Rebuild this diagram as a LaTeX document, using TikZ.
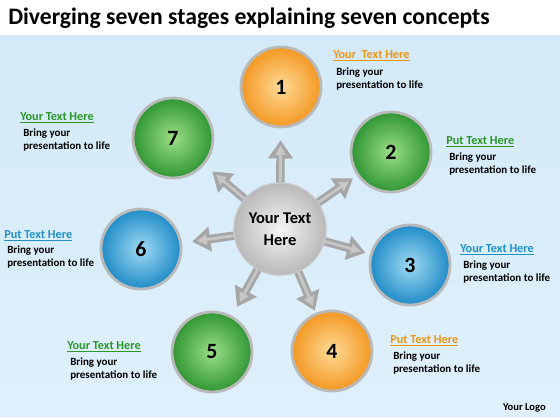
\documentclass[tikz,border=0pt]{standalone}
\usepackage{fontspec}
\setmainfont{Carlito}
\usetikzlibrary{arrows.meta,calc}

\definecolor{orangehi}{RGB}{255,218,150}
\definecolor{orangelo}{RGB}{243,152,35}
\definecolor{orangetxt}{RGB}{236,150,20}
\definecolor{greenhi}{RGB}{155,222,135}
\definecolor{greenlo}{RGB}{48,150,52}
\definecolor{greentxt}{RGB}{40,150,40}
\definecolor{bluehi}{RGB}{160,218,242}
\definecolor{bluelo}{RGB}{32,140,200}
\definecolor{bluetxt}{RGB}{30,145,200}
\definecolor{skytop}{RGB}{212,234,248}
\definecolor{skybot}{RGB}{222,240,251}

\begin{document}
\begin{tikzpicture}[x=0.025cm, y=-0.025cm,
    ball/.style={circle, minimum size=2cm, draw=gray!55, line width=2pt, font=\fontsize{15.5}{18}\bfseries},
    orangeball/.style={ball, inner color=orangehi, outer color=orangelo},
    greenball/.style={ball, inner color=greenhi, outer color=greenlo},
    blueball/.style={ball, inner color=bluehi, outer color=bluelo},
    hub/.style={circle, minimum size=2.3cm, draw=gray!45, line width=1pt, inner color=gray!8, outer color=gray!55, align=center, font=\fontsize{11.7}{15.6}\bfseries},
    spoke/.style={draw=gray!70, line width=6pt, -{Triangle[length=13pt, width=17pt]},
        postaction={draw=gray!45, line width=2pt, -{Triangle[length=7pt, width=7pt]}, shorten >=3.5pt}},
    head/.style={anchor=west, inner sep=0pt, font=\fontsize{8.7}{10}\bfseries},
    body/.style={anchor=west, inner sep=0pt, align=left, font=\fontsize{7.8}{9.6}\bfseries}]
    \useasboundingbox (0, 0) rectangle (560, 420);
    \fill [white] (0, 0) rectangle (560, 420);
    \fill [top color=skytop, middle color=white, bottom color=skybot] (0, 36) rectangle (560, 416);
    \node [anchor=west, inner sep=0pt, font=\fontsize{16.8}{19}\bfseries] (title) at (8, 18) {Diverging seven stages explaining seven concepts};

    % the seven stages
    \node [orangeball] (c1) at (281, 87) {1};
    \node [greenball] (c2) at (391, 152) {2};
    \node [blueball] (c3) at (410, 265) {3};
    \node [orangeball] (c4) at (332, 351) {4};
    \node [greenball] (c5) at (212, 352) {5};
    \node [blueball] (c6) at (141, 249) {6};
    \node [greenball] (c7) at (173, 138) {7};
    \node [hub] (ctr) at (280, 229) {Your Text\\Here};

    % arrows out of the hub
    \draw [spoke] (ctr) -- ($(ctr)!2.22cm!(c1)$);
    \draw [spoke] (ctr) -- ($(ctr)!2.22cm!(c2)$);
    \draw [spoke] (ctr) -- ($(ctr)!2.22cm!(c3)$);
    \draw [spoke] (ctr) -- ($(ctr)!2.22cm!(c4)$);
    \draw [spoke] (ctr) -- ($(ctr)!2.22cm!(c5)$);
    \draw [spoke] (ctr) -- ($(ctr)!2.22cm!(c6)$);
    \draw [spoke] (ctr) -- ($(ctr)!2.22cm!(c7)$);

    % texts
    \node [head, text=orangetxt] (h1) at (333, 56) {\underline{Your\ \ Text Here}};
    \node [body] (b1) at (336, 79) {Bring your\\presentation to life};
    \node [head, text=greentxt] (h2) at (446, 142) {\underline{Put Text Here}};
    \node [body] (b2) at (449, 164) {Bring your\\presentation to life};
    \node [head, text=bluetxt] (h3) at (460, 250) {\underline{Your Text Here}};
    \node [body] (b3) at (463, 272) {Bring your\\presentation to life};
    \node [head, text=orangetxt] (h4) at (390, 341) {\underline{Put Text Here}};
    \node [body] (b4) at (393, 363) {Bring your\\presentation to life};
    \node [head, text=greentxt] (h5) at (67, 347) {\underline{Your Text Here}};
    \node [body] (b5) at (70, 369) {Bring your\\presentation to life};
    \node [head, text=bluetxt] (h6) at (4, 236) {\underline{Put Text Here}};
    \node [body] (b6) at (7, 257) {Bring your\\presentation to life};
    \node [head, text=greentxt] (h7) at (20, 118) {\underline{Your Text Here}};
    \node [body] (b7) at (23, 140) {Bring your\\presentation to life};

    \node [anchor=east, inner sep=0pt, font=\fontsize{7.5}{9}\bfseries] (logo) at (546, 408) {Your Logo};
\end{tikzpicture}
\end{document}
